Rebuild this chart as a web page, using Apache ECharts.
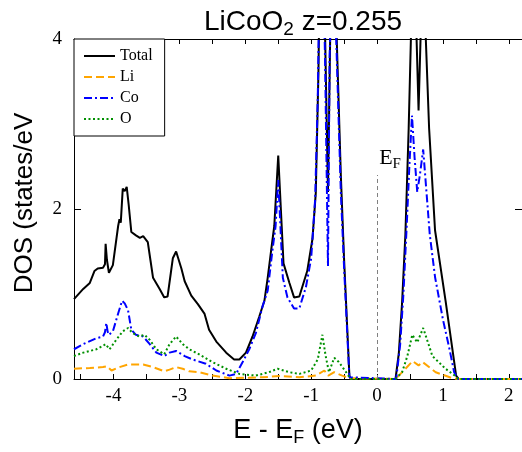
<!DOCTYPE html>
<html><head><meta charset="utf-8">
<script src="https://cdn.jsdelivr.net/npm/echarts@6/dist/echarts.min.js"></script>
<style>html,body{margin:0;padding:0;background:#fff}#c{width:522px;height:452px}</style>
</head><body><div id="c"></div>
<script>
// ---- data (energy in eV relative to E_F, DOS in states/eV) ----
const xLabelTicks = [-4, -3, -2, -1, 0, 1, 2];
const xAllTicks = [-4.5, -4, -3.5, -3, -2.5, -2, -1.5, -1, -0.5, 0, 0.5, 1, 1.5, 2];
const yLabelTicks = [0, 2, 4];
const seriesNames = ['Total', 'Li', 'Co', 'O'];
const fermiLineTop = 2.4;

const totalDOS = [
  [-4.60,0.94],[-4.46,1.06],[-4.36,1.13],[-4.29,1.27],[-4.24,1.30],[-4.16,1.31],[-4.13,1.35],[-4.12,1.59],
  [-4.10,1.40],[-4.07,1.25],[-4.01,1.34],[-3.93,1.80],[-3.91,1.88],[-3.89,1.84],[-3.86,2.24],[-3.83,2.21],
  [-3.80,2.26],[-3.77,2.05],[-3.73,1.73],[-3.66,1.69],[-3.60,1.66],[-3.55,1.68],[-3.48,1.61],[-3.44,1.40],
  [-3.40,1.19],[-3.30,1.06],[-3.23,0.96],[-3.18,0.97],[-3.13,1.25],[-3.10,1.42],[-3.05,1.50],[-2.97,1.30],
  [-2.92,1.15],[-2.82,0.98],[-2.72,0.88],[-2.62,0.77],[-2.55,0.58],[-2.44,0.44],[-2.29,0.31],[-2.17,0.23],
  [-2.09,0.23],[-1.99,0.31],[-1.89,0.50],[-1.79,0.73],[-1.71,0.92],[-1.66,1.19],[-1.61,1.50],[-1.56,1.80],
  [-1.50,2.63],[-1.42,1.36],[-1.33,1.13],[-1.26,0.96],[-1.18,0.97],[-1.06,1.27],[-0.98,1.65],[-0.93,2.19],
  [-0.89,3.6],[-0.84,6.5],[-0.79,4.1],[-0.745,2.2],[-0.71,4.1],[-0.66,6.0],[-0.62,4.2],[-0.55,2.4],
  [-0.50,1.4],[-0.42,0.04],[-0.40,0],[0.28,0],[0.33,0.3],[0.38,0.9],[0.43,1.7],[0.48,2.95],[0.52,4.2],
  [0.56,5.5],[0.60,4.0],[0.63,3.16],[0.66,4.0],[0.70,5.2],[0.74,4.0],[0.79,2.95],[0.88,1.75],[1.04,0.92],
  [1.20,0.04],[1.24,0],[2.2,0]
];
const liDOS = [
  [-4.60,0.12],[-4.36,0.13],[-4.16,0.14],[-4.10,0.15],[-4.03,0.10],[-3.91,0.14],[-3.78,0.17],[-3.55,0.17],
  [-3.40,0.14],[-3.23,0.09],[-3.15,0.11],[-3.05,0.14],[-2.95,0.12],[-2.85,0.09],[-2.70,0.08],[-2.50,0.04],
  [-2.24,0.01],[-1.74,0.02],[-1.48,0.035],[-1.18,0.02],[-0.93,0.04],[-0.80,0.10],[-0.74,0.04],[-0.65,0.08],
  [-0.53,0.04],[-0.42,0.01],[-0.40,0],[0.28,0],[0.43,0.12],[0.54,0.21],[0.56,0.21],[0.63,0.16],[0.69,0.20],
  [0.89,0.08],[1.14,0.01],[1.23,0],[2.2,0]
];
const coDOS = [
  [-4.60,0.35],[-4.46,0.41],[-4.26,0.48],[-4.16,0.50],[-4.13,0.55],[-4.11,0.66],[-4.09,0.56],[-4.07,0.52],
  [-4.01,0.56],[-3.93,0.77],[-3.87,0.92],[-3.83,0.89],[-3.78,0.81],[-3.73,0.58],[-3.66,0.52],[-3.55,0.50],
  [-3.45,0.41],[-3.35,0.31],[-3.23,0.27],[-3.15,0.31],[-3.05,0.33],[-2.92,0.27],[-2.80,0.23],[-2.60,0.18],
  [-2.44,0.10],[-2.24,0.04],[-2.14,0.06],[-2.04,0.20],[-1.94,0.35],[-1.84,0.54],[-1.74,0.85],[-1.66,1.04],
  [-1.59,1.50],[-1.54,1.80],[-1.50,2.34],[-1.43,1.19],[-1.36,0.96],[-1.26,0.83],[-1.18,0.83],[-1.08,1.08],
  [-1.00,1.42],[-0.94,2.11],[-0.90,3.3],[-0.85,6.0],[-0.79,3.8],[-0.745,1.33],[-0.72,3.8],[-0.66,5.5],
  [-0.62,4.0],[-0.55,2.2],[-0.50,1.3],[-0.42,0.02],[-0.40,0],[0.29,0],[0.35,0.4],[0.40,1.0],[0.45,1.8],
  [0.49,2.5],[0.53,3.1],[0.57,2.6],[0.61,2.2],[0.65,2.4],[0.70,2.7],[0.75,2.2],[0.80,1.7],[0.88,1.2],
  [1.00,0.7],[1.10,0.35],[1.17,0.08],[1.23,0],[2.2,0]
];
const oDOS = [
  [-4.60,0.27],[-4.46,0.31],[-4.26,0.35],[-4.16,0.39],[-4.12,0.41],[-4.06,0.35],[-3.96,0.46],[-3.86,0.56],
  [-3.78,0.60],[-3.71,0.54],[-3.61,0.50],[-3.53,0.52],[-3.45,0.46],[-3.35,0.35],[-3.23,0.29],[-3.15,0.41],
  [-3.05,0.50],[-2.95,0.41],[-2.85,0.35],[-2.70,0.29],[-2.50,0.20],[-2.29,0.12],[-2.09,0.06],[-1.84,0.04],
  [-1.64,0.08],[-1.51,0.12],[-1.33,0.08],[-1.18,0.06],[-1.00,0.10],[-0.90,0.23],[-0.83,0.52],[-0.78,0.27],
  [-0.73,0.08],[-0.65,0.25],[-0.58,0.20],[-0.47,0.08],[-0.40,0],[0.28,0],[0.38,0.08],[0.46,0.27],
  [0.535,0.52],[0.61,0.43],[0.70,0.60],[0.84,0.27],[1.04,0.12],[1.18,0.04],[1.23,0],[2.2,0]
];

// ---- chart ----
const serif = 'Liberation Serif';
const sans = 'Liberation Sans';
const chart = echarts.init(document.getElementById('c'), null, {renderer: 'canvas'});

function xAxisCfg(pos, showLabels) {
  return {
    type: 'value', position: pos, min: -4.6, max: 2.2,
    axisLine: {show: true, onZero: false, lineStyle: {color: '#000', width: 1}},
    axisTick: {show: true, inside: true, length: 5, customValues: xAllTicks, lineStyle: {color: '#000'}},
    axisLabel: {show: showLabels, customValues: xLabelTicks, margin: 8,
      fontFamily: serif, fontSize: 19, color: '#000'},
    splitLine: {show: false}
  };
}
function yAxisCfg(pos, showLabels) {
  return {
    type: 'value', position: pos, min: 0, max: 4,
    axisLine: {show: true, onZero: false, lineStyle: {color: '#000', width: 1}},
    axisTick: {show: true, inside: true, length: 7, customValues: yLabelTicks, lineStyle: {color: '#000'}},
    axisLabel: {show: showLabels, customValues: yLabelTicks, margin: 12,
      fontFamily: serif, fontSize: 19, color: '#000'},
    splitLine: {show: false}
  };
}

const xb = xAxisCfg('bottom', true);
xb.name = 'E - E{sub|F} (eV)';
xb.nameLocation = 'middle';
xb.nameGap = 36;
xb.nameTextStyle = {fontFamily: sans, fontSize: 27, color: '#000',
  rich: {sub: {fontFamily: sans, fontSize: 18, color: '#000', verticalAlign: 'bottom', padding: [14, 0, 0, 0]}}};
const xt = xAxisCfg('top', false);
const yl = yAxisCfg('left', true);
yl.name = 'DOS (states/eV';
yl.nameLocation = 'middle';
yl.nameGap = 36;
yl.nameTextStyle = {fontFamily: sans, fontSize: 26, color: '#000', padding: [0, 0, 0, 12]};
const yr = yAxisCfg('right', false);

function lineSeries(name, data, color, type, width, z) {
  return {
    name, type: 'line', data, xAxisIndex: 0, yAxisIndex: 0,
    showSymbol: false, symbol: 'none', clip: true, z,
    lineStyle: {color, width, type}, itemStyle: {color},
    animation: false
  };
}

const sTotal = lineSeries(seriesNames[0], totalDOS, '#000000', 'solid', 2, 2);
sTotal.markLine = {
  silent: true, symbol: ['none', 'none'], animation: false,
  lineStyle: {color: '#808080', type: [4, 3], width: 1},
  label: {show: true, position: 'end', distance: 3, formatter: 'E{f|F}',
    fontFamily: serif, fontSize: 22, color: '#000', padding: [0, 0, 0, 26],
    rich: {f: {fontFamily: serif, fontSize: 15, color: '#000', verticalAlign: 'bottom', padding: [12, 0, 0, 0]}}},
  data: [[{coord: [0, 0]}, {coord: [0, fermiLineTop]}]]
};

const option = {
  backgroundColor: '#fff',
  animation: false,
  title: {
    text: 'LiCoO{sub|2} z=0.255', left: 298, top: 1, textAlign: 'center',
    textStyle: {fontFamily: sans, fontSize: 28, fontWeight: 'normal', color: '#000',
      rich: {sub: {fontFamily: sans, fontSize: 19, color: '#000', verticalAlign: 'bottom', padding: [14, 0, 0, 0]}}}
  },
  grid: {left: 74, top: 39, right: -1, bottom: 65, containLabel: false},
  xAxis: [xb, xt],
  yAxis: [yl, yr],
  legend: {
    show: true, left: 74, top: 39, orient: 'vertical',
    data: seriesNames,
    itemWidth: 31, itemHeight: 14, itemGap: 3,
    padding: [8, 12, 8, 9],
    backgroundColor: '#fff', borderColor: '#000', borderWidth: 1, borderRadius: 0,
    itemStyle: {color: 'rgba(0,0,0,0)', borderWidth: 0, borderColor: 'rgba(0,0,0,0)'},
    textStyle: {fontFamily: serif, fontSize: 16, color: '#000', lineHeight: 18}
  },
  series: [
    sTotal,
    lineSeries(seriesNames[1], liDOS, '#FFA500', [8, 4], 2, 3),
    lineSeries(seriesNames[2], coDOS, '#0000FF', [8, 3, 2, 3], 2, 4),
    lineSeries(seriesNames[3], oDOS, '#009000', [2, 2.5], 2, 5)
  ]
};
chart.setOption(option);
</script>
</body></html>
